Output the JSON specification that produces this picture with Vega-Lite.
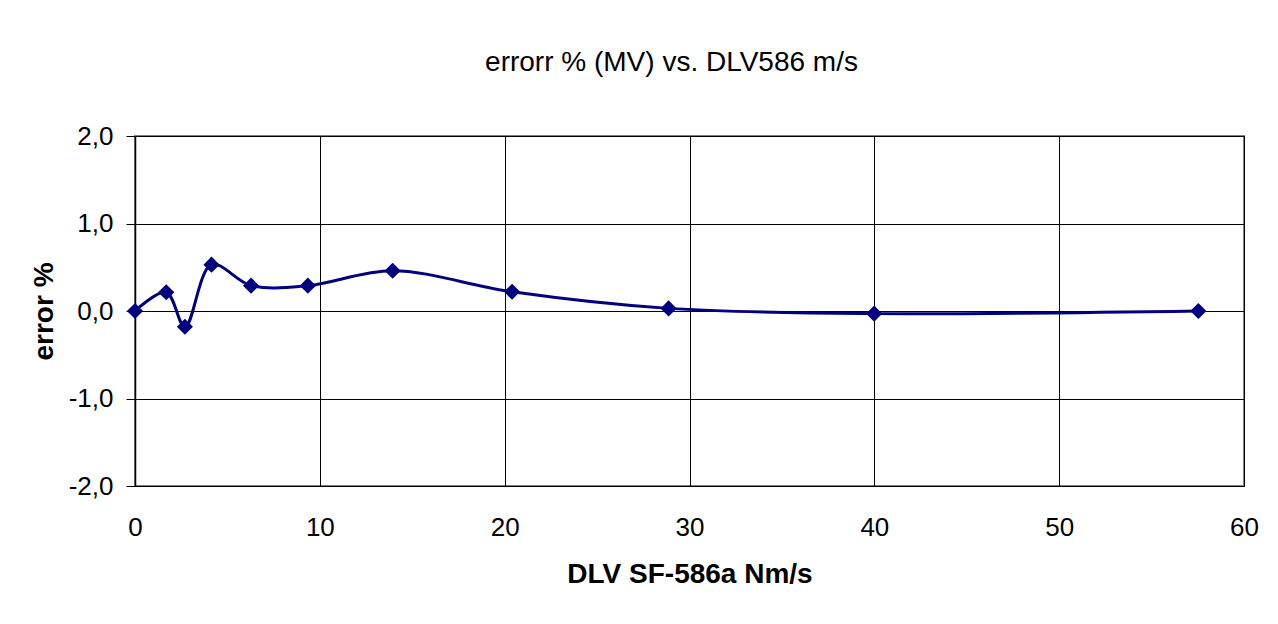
{
  "$schema": "https://vega.github.io/schema/vega-lite/v6.json",
  "width": 1109,
  "height": 350,
  "autosize": {"type": "none"},
  "padding": {"left": 135, "top": 136, "right": 34, "bottom": 138},
  "background": "white",
  "title": {
    "text": "errorr % (MV) vs. DLV586 m/s",
    "font": "Liberation Sans",
    "fontSize": 28,
    "fontWeight": "normal",
    "color": "black",
    "anchor": "middle",
    "offset": 46,
    "dx": -18
  },
  "config": {
    "view": {"stroke": "#808080", "strokeWidth": 2},
    "axis": {
      "labelFont": "Liberation Sans",
      "titleFont": "Liberation Sans",
      "labelColor": "black",
      "titleColor": "black",
      "labelFontSize": 26,
      "titleFontSize": 28,
      "titleFontWeight": "bold",
      "gridColor": "black",
      "gridOpacity": 1,
      "gridWidth": 1
    }
  },
  "data": {
    "values": [
      {"dlv": 0.0, "err": 0.0},
      {"dlv": 1.69, "err": 0.215},
      {"dlv": 2.70, "err": -0.18},
      {"dlv": 4.14, "err": 0.53},
      {"dlv": 6.28, "err": 0.29},
      {"dlv": 9.35, "err": 0.29},
      {"dlv": 13.94, "err": 0.46},
      {"dlv": 20.4, "err": 0.22},
      {"dlv": 28.87, "err": 0.03},
      {"dlv": 39.99, "err": -0.03},
      {"dlv": 57.53, "err": 0.0}
    ]
  },
  "encoding": {
    "x": {
      "field": "dlv",
      "type": "quantitative",
      "scale": {"domain": [0, 60], "nice": false, "zero": false},
      "axis": {
        "values": [0, 10, 20, 30, 40, 50, 60],
        "title": "DLV SF-586a Nm/s",
        "ticks": false,
        "domain": false,
        "labelPadding": 28,
        "titlePadding": 20,
        "labelFlush": false
      }
    },
    "y": {
      "field": "err",
      "type": "quantitative",
      "scale": {"domain": [-2, 2], "nice": false},
      "axis": {
        "values": [-2, -1, 0, 1, 2],
        "labelExpr": "replace(replace(format(datum.value, '.1f'), '.', ','), '\u2212', '-')",
        "title": "error %",
        "tickSize": 9,
        "tickColor": "black",
        "domain": true,
        "domainColor": "black",
        "domainWidth": 1.5,
        "labelPadding": 13,
        "titlePadding": 10,
        "labelFlush": false
      }
    }
  },
  "layer": [
    {
      "mark": {"type": "line", "interpolate": "catmull-rom", "color": "#000080", "strokeWidth": 3}
    },
    {
      "mark": {"type": "point", "shape": "diamond", "filled": true, "size": 260, "color": "#000080", "opacity": 1}
    }
  ]
}
